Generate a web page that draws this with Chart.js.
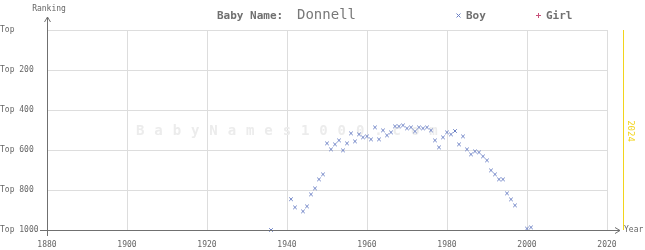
<!DOCTYPE html>
<html>
<head>
<meta charset="utf-8">
<script src="https://cdn.jsdelivr.net/npm/chart.js@4"></script>
<style>
html,body{margin:0;padding:0;background:#fff;}
#wrap{width:645px;height:250px;position:relative;}
</style>
</head>
<body>
<div id="wrap"><canvas id="c" width="645" height="250"></canvas></div>
<script>
const babyName = "Donnell";
const boyYears = [1936,1941,1942,1944,1945,1946,1947,1948,1949,1950,1951,1952,1953,1954,1955,1956,1957,1958,1959,1960,1961,1962,1963,1964,1965,1966,1967,1968,1969,1970,1971,1972,1973,1974,1975,1976,1977,1978,1979,1980,1981,1982,1983,1984,1985,1986,1987,1988,1989,1990,1991,1992,1993,1994,1995,1996,1997,2000,2001];
const boyRanks = [1000,846,887,907,882,822,792,747,722,567,597,572,552,602,567,517,557,522,537,532,547,487,547,502,527,512,482,482,477,492,487,507,487,492,487,502,552,587,537,512,522,505,572,532,597,622,607,612,632,652,702,722,747,747,817,847,877,993,987];
const girlYears = [];
const girlRanks = [];
const yearTicks = [1880,1900,1920,1940,1960,1980,2000,2020];
const rankTicks = [0,200,400,600,800,1000];
const currentYear = 2024;

const MONO = '"DejaVu Sans Mono", "Liberation Mono", monospace';
const boyColor = '#6a7fc4';
const girlColor = '#c8507a';

const decor = {
  id: 'decor',
  beforeDatasetsDraw(chart) {
    const ctx = chart.ctx;
    ctx.save();
    ctx.font = 'bold 14px ' + MONO;
    ctx.fillStyle = '#ececec';
    ctx.textBaseline = 'middle';
    ctx.textAlign = 'left';
    try { ctx.letterSpacing = '9.9px'; } catch(e) {}
    ctx.fillText('BabyNames1000.com', 136, 131);
    try { ctx.letterSpacing = '0px'; } catch(e) {}
    ctx.restore();
  },
  afterDraw(chart) {
    const ctx = chart.ctx;
    const xs = chart.scales.x, ys = chart.scales.y;
    const L = xs.left, B = ys.bottom, T = ys.top;
    ctx.save();
    const cx = Math.round(xs.getPixelForValue(currentYear)) + 0.5;
    ctx.strokeStyle = '#f2d41c';
    ctx.lineWidth = 1;
    ctx.beginPath(); ctx.moveTo(cx, T); ctx.lineTo(cx, B); ctx.stroke();
    ctx.save();
    ctx.translate(cx + 7, (T + B) / 2 + 1);
    ctx.rotate(Math.PI / 2);
    ctx.font = '9px ' + MONO;
    ctx.fillStyle = '#f2d41c';
    ctx.textAlign = 'center'; ctx.textBaseline = 'middle';
    ctx.fillText(String(currentYear), 0, 0);
    ctx.restore();

    ctx.strokeStyle = '#707070';
    ctx.lineWidth = 1;
    const ax = Math.round(L) + 0.5, ay = Math.round(B) + 0.5;
    ctx.beginPath();
    ctx.moveTo(ax, 236); ctx.lineTo(ax, 17);
    ctx.moveTo(ax - 3, 22); ctx.lineTo(ax, 17); ctx.lineTo(ax + 3, 22);
    ctx.moveTo(40, ay); ctx.lineTo(620, ay);
    ctx.moveTo(615, ay - 3); ctx.lineTo(620, ay); ctx.lineTo(615, ay + 3);
    ctx.stroke();

    ctx.fillStyle = '#666';
    ctx.font = '8px ' + MONO;
    ctx.textAlign = 'center'; ctx.textBaseline = 'middle';
    ctx.fillText('Ranking', 49, 9);
    ctx.textAlign = 'left';
    ctx.fillText('Year', 624, 230);

    ctx.textBaseline = 'middle';
    ctx.font = 'bold 11px ' + MONO;
    ctx.fillStyle = '#707070';
    ctx.fillText('Baby Name:', 217, 16);
    ctx.font = '14px ' + MONO;
    ctx.fillStyle = '#787878';
    ctx.fillText(babyName, 297, 15);

    ctx.lineWidth = 1;
    ctx.strokeStyle = boyColor;
    ctx.beginPath();
    ctx.moveTo(456.5, 13.5); ctx.lineTo(460.5, 17.5);
    ctx.moveTo(460.5, 13.5); ctx.lineTo(456.5, 17.5);
    ctx.stroke();
    ctx.strokeStyle = girlColor;
    ctx.beginPath();
    ctx.moveTo(538.5, 13); ctx.lineTo(538.5, 18);
    ctx.moveTo(536, 15.5); ctx.lineTo(541, 15.5);
    ctx.stroke();
    ctx.font = 'bold 11px ' + MONO;
    ctx.fillStyle = '#707070';
    ctx.fillText('Boy', 466, 16);
    ctx.fillText('Girl', 546, 16);
    ctx.restore();
  }
};

new Chart(document.getElementById('c'), {
  type: 'scatter',
  data: {
    datasets: [
      {
        label: 'Boy',
        data: boyYears.map((y, i) => ({x: y, y: boyRanks[i]})),
        pointStyle: 'crossRot',
        pointRadius: 2.5,
        pointBorderWidth: 1,
        borderColor: boyColor,
        backgroundColor: boyColor
      },
      {
        label: 'Girl',
        data: girlYears.map((y, i) => ({x: y, y: girlRanks[i]})),
        pointStyle: 'cross',
        pointRadius: 2.5,
        pointBorderWidth: 1,
        borderColor: girlColor,
        backgroundColor: girlColor
      }
    ]
  },
  options: {
    responsive: false,
    animation: false,
    devicePixelRatio: 1,
    layout: { padding: { top: 30, right: 38, left: 0, bottom: 0 } },
    plugins: { legend: { display: false }, tooltip: { enabled: false } },
    clip: false,
    scales: {
      x: {
        type: 'linear',
        min: 1880, max: 2020,
        afterFit(s) { s.height = 20; },
        afterBuildTicks(s) { s.ticks = yearTicks.map(v => ({value: v})); },
        grid: { color: '#dddddd', drawTicks: false, lineWidth: 1 },
        border: { display: false },
        ticks: { color: '#666', font: { family: MONO, size: 8 }, padding: 10, maxRotation: 0, autoSkip: false,
          callback: v => String(v) }
      },
      y: {
        type: 'linear',
        reverse: true,
        min: 0, max: 1000,
        afterFit(s) { s.width = 47; },
        afterBuildTicks(s) { s.ticks = rankTicks.map(v => ({value: v})); },
        grid: { color: '#dddddd', drawTicks: false, lineWidth: 1 },
        border: { display: false },
        ticks: {
          color: '#666', font: { family: MONO, size: 8 }, padding: 8, autoSkip: false,
          crossAlign: 'far',
          callback: v => v === 0 ? 'Top' : 'Top ' + v
        }
      }
    }
  },
  plugins: [decor]
});
</script>
</body>
</html>
